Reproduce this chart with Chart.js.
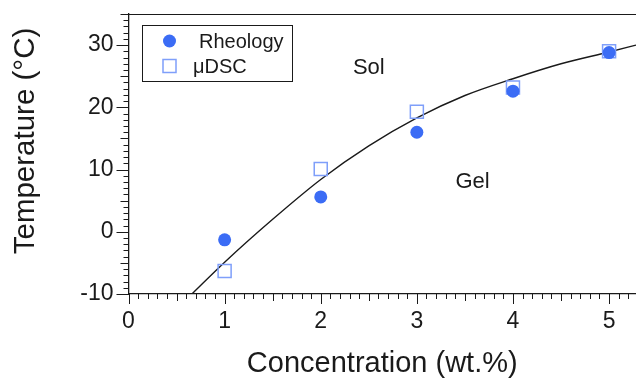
<!DOCTYPE html>
<html>
<head>
<meta charset="utf-8">
<script src="https://cdn.jsdelivr.net/npm/chart.js@4/dist/chart.umd.min.js"></script>
<style>
  html, body { margin: 0; padding: 0; background: #fff; }
</style>
</head>
<body>
<canvas id="phaseChart" width="636" height="382"></canvas>
<script>
// measured points
const concentration = [1, 2, 3, 4, 5];
const rheologyTemp = [-1.3, 5.6, 16.0, 22.6, 28.8];
const dscTemp = [-6.3, 10.1, 19.3, 23.2, 29.0];

// fitted boundary curve, sampled
const fitConc = [0.66, 1, 1.5, 2, 2.5, 3, 3.5, 4, 4.5, 5, 5.28];
const fitTemp = [-10, -4.9, 2.0, 8.4, 13.8, 18.3, 21.9, 24.6, 27.0, 28.9, 30.0];

const xTickLabels = [0, 1, 2, 3, 4, 5];
const yTickLabels = [-10, 0, 10, 20, 30];

// region names, placed in data units
const regionNames = ["Sol", "Gel"];
const regionConc = [2.5, 3.58];
const regionTemp = [25.3, 7.0];

const FONT = "'Liberation Sans', Arial, Helvetica, sans-serif";
const INK = "#1a1a1a";
const circleBlue = "#3b6cf5";
const squareBlue = "#7f9ffa";

const toPoints = (xs, ys) => xs.map((x, i) => ({ x: x, y: ys[i] }));

// ticks on the axes: minor / medium / major
const axisTicks = {
  id: "axisTicks",
  afterDraw(chart) {
    const { ctx, chartArea, scales } = chart;
    const xs = scales.x, ys = scales.y;
    ctx.save();
    ctx.strokeStyle = INK;
    ctx.lineWidth = 1;
    ctx.beginPath();
    for (let i = 0; i <= 52; i++) {
      const px = Math.round(xs.getPixelForValue(i / 10)) + 0.5;
      const len = i % 10 === 0 ? 10 : i % 5 === 0 ? 7 : 5;
      ctx.moveTo(px, chartArea.bottom);
      ctx.lineTo(px, chartArea.bottom + len);
    }
    for (let v = -10; v <= 35; v++) {
      const py = Math.round(ys.getPixelForValue(v)) + 0.5;
      const len = v % 10 === 0 ? 12 : v % 5 === 0 ? 8 : 5;
      ctx.moveTo(chartArea.left, py);
      ctx.lineTo(chartArea.left - len, py);
    }
    // top frame line
    ctx.moveTo(chartArea.left, chartArea.top + 0.5);
    ctx.lineTo(chartArea.right, chartArea.top + 0.5);
    ctx.stroke();
    ctx.restore();
  }
};

// boxed legend, sol/gel labels and the rotated y title
const extras = {
  id: "extras",
  afterDraw(chart) {
    const { ctx, scales } = chart;
    ctx.save();

    ctx.strokeStyle = INK;
    ctx.lineWidth = 1;
    ctx.strokeRect(142.5, 25.5, 150, 56);

    ctx.fillStyle = circleBlue;
    ctx.beginPath();
    ctx.arc(169.5, 41, 6.5, 0, Math.PI * 2);
    ctx.fill();

    ctx.strokeStyle = squareBlue;
    ctx.lineWidth = 1.5;
    ctx.strokeRect(163, 59.5, 13, 13);

    ctx.fillStyle = INK;
    ctx.font = "20px " + FONT;
    ctx.textBaseline = "alphabetic";
    ctx.textAlign = "left";
    ctx.fillText(chart.data.datasets[0].label, 199, 47.5);
    ctx.fillText(chart.data.datasets[1].label, 193, 73);

    ctx.font = "22px " + FONT;
    ctx.textAlign = "center";
    regionNames.forEach((name, i) => {
      ctx.fillText(name, scales.x.getPixelForValue(regionConc[i]), scales.y.getPixelForValue(regionTemp[i]));
    });

    ctx.font = "29.5px " + FONT;
    ctx.translate(34, 141);
    ctx.rotate(-Math.PI / 2);
    ctx.fillText("Temperature (°C)", 0, 0);
    ctx.restore();
  }
};

new Chart(document.getElementById("phaseChart"), {
  type: "scatter",
  data: {
    datasets: [
      {
        label: "Rheology",
        data: toPoints(concentration, rheologyTemp),
        pointStyle: "circle",
        pointRadius: 6.5,
        backgroundColor: circleBlue,
        borderColor: circleBlue,
        borderWidth: 0,
        order: 0
      },
      {
        label: "μDSC",
        data: toPoints(concentration, dscTemp),
        pointStyle: "rect",
        pointRadius: 9.2,
        backgroundColor: "rgba(0,0,0,0)",
        borderColor: squareBlue,
        borderWidth: 1.5,
        order: 1
      },
      {
        type: "line",
        label: "fit",
        data: toPoints(fitConc, fitTemp),
        borderColor: INK,
        borderWidth: 1.4,
        pointRadius: 0,
        fill: false,
        cubicInterpolationMode: "monotone",
        order: 2
      }
    ]
  },
  options: {
    responsive: false,
    devicePixelRatio: 1,
    animation: false,
    layout: { autoPadding: false, padding: { top: 14, right: 0, bottom: 0, left: 0 } },
    plugins: {
      legend: { display: false },
      tooltip: { enabled: false }
    },
    scales: {
      x: {
        type: "linear",
        min: 0,
        max: 5.28,
        afterBuildTicks: (scale) => { scale.ticks = xTickLabels.map((v) => ({ value: v })); },
        afterFit: (scale) => {
          scale.height = 88;
          scale.paddingLeft = 0;
          scale.paddingRight = 0;
        },
        grid: { display: true, drawOnChartArea: false, drawTicks: false },
        border: { display: true, color: INK, width: 1.3 },
        ticks: {
          padding: 14,
          color: INK,
          font: { family: FONT, size: 23 },
          maxRotation: 0
        },
        title: {
          display: true,
          text: "Concentration (wt.%)",
          color: INK,
          font: { family: FONT, size: 29 },
          padding: { top: 0, bottom: 1 }
        }
      },
      y: {
        type: "linear",
        min: -10,
        max: 35,
        afterBuildTicks: (scale) => { scale.ticks = yTickLabels.map((v) => ({ value: v })); },
        afterFit: (scale) => {
          scale.width = 128.5;
          scale.paddingTop = 0;
          scale.paddingBottom = 0;
        },
        grid: { display: true, drawOnChartArea: false, drawTicks: false },
        border: { display: true, color: INK, width: 1.3 },
        ticks: {
          padding: 15,
          color: INK,
          font: { family: FONT, size: 23 }
        }
      }
    }
  },
  plugins: [axisTicks, extras]
});
</script>
</body>
</html>
